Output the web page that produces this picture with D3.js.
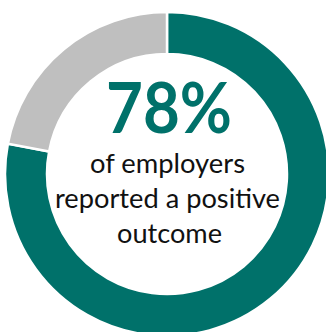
<!DOCTYPE html>
<html>
<head>
<meta charset="utf-8">
<script src="https://cdn.jsdelivr.net/npm/d3@7"></script>
<style>
  html, body { margin: 0; padding: 0; background: #fff; overflow: hidden; }
</style>
</head>
<body>
<div id="chart-area"></div>
<script>
// donut: share of employers
var categories = ['positive', 'other'];
var values = [78, 22];
var colors = ['#00716A', '#BFBFBF'];

var headline = '78%';
var caption = ['of employers', 'reported a positive', 'outcome'];

var width = 326, height = 332;
var cx = 167, cy = 174;

var svg = d3.select('#chart-area')
	.append('svg')
	.attr('width', width)
	.attr('height', height);

var g = svg.append('g')
	.attr('transform', 'translate(' + cx + ',' + cy + ')');

var color = d3.scaleOrdinal().domain(categories).range(colors);

var pie = d3.pie().sort(null).value(function(d) { return d.value; });
var arc = d3.arc().innerRadius(120).outerRadius(162);

var data = categories.map(function(c, i) { return { key: c, value: values[i] }; });

g.selectAll('path')
	.data(pie(data))
	.enter()
	.append('path')
	.attr('d', arc)
	.attr('fill', function(d) { return color(d.data.key); })
	.attr('stroke', '#fff')
	.attr('stroke-width', 2.5);

// centre labels
g.append('text')
	.attr('x', 2)
	.attr('y', 133 - cy)
	.attr('text-anchor', 'middle')
	.attr('font-family', 'Lato, sans-serif')
	.attr('font-weight', 'bold')
	.attr('font-size', '71px')
	.attr('fill', colors[0])
	.attr('textLength', 126)
	.attr('lengthAdjust', 'spacingAndGlyphs')
	.text(headline);

var lineY = [173, 208, 243];
var lineW = [155, 225, 105];

g.selectAll('text.cap')
	.data(caption)
	.enter()
	.append('text')
	.attr('class', 'cap')
	.attr('x', function(d, i) { return i == 2 ? 2.5 : 0.5; })
	.attr('y', function(d, i) { return lineY[i] - cy; })
	.attr('text-anchor', 'middle')
	.attr('font-family', 'Lato, sans-serif')
	.attr('font-size', '26.5px')
	.attr('fill', '#111')
	.attr('textLength', function(d, i) { return lineW[i]; })
	.attr('lengthAdjust', 'spacingAndGlyphs')
	.text(function(d) { return d; });
</script>
</body>
</html>
